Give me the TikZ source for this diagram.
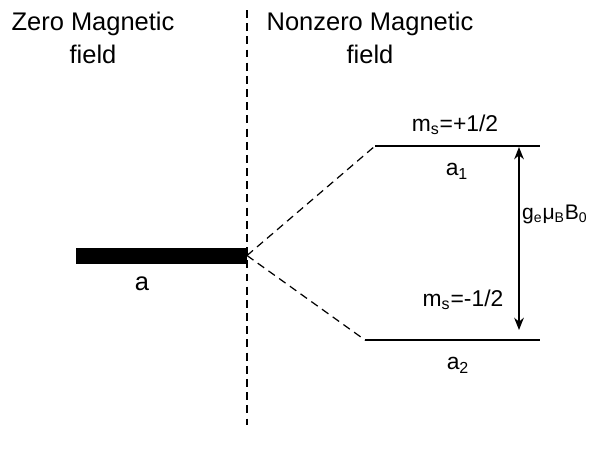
\documentclass[tikz,border=0pt]{standalone}
\usepackage{fontspec}
\setmainfont{Liberation Sans}
\usetikzlibrary{arrows.meta, positioning}

\begin{document}
\begin{tikzpicture}[
  x=0.02cm, y=-0.02cm,
  title/.style={align=center, font=\fontsize{14.5}{18.7}\selectfont},
  lbl/.style={font=\fontsize{13}{15}\selectfont, inner sep=1pt},
  level/.style={line width=1pt},
  split/.style={dashed, dash pattern=on 4.5pt off 3pt, line width=0.7pt},
  gap/.style={{Stealth[length=7pt, width=5.5pt]}-{Stealth[length=7pt, width=5.5pt]}, line width=0.9pt}
]
  \useasboundingbox (0,0) rectangle (590,451);

  % Titles
  \node[title] (zero) at (93,38) {Zero Magnetic\\field};
  \node[title] (nonzero) at (370,38) {Nonzero Magnetic\\field};

  % Separator
  \coordinate (sep-top) at (247,10);
  \coordinate (sep-bot) at (247,425);
  \draw[split] (sep-top) -- (sep-bot);

  % Zero field level
  \node[fill=black, draw=black, minimum width=3.4cm, minimum height=0.3cm,
        inner sep=0pt, anchor=east] (bar) at (247,255.5) {};
  \node[lbl, font=\fontsize{14.5}{17}\selectfont] (a) at (142,284) {a};

  % Split levels
  \coordinate (up-l) at (375,146);
  \coordinate (up-r) at (540,146);
  \coordinate (lo-l) at (365,340);
  \coordinate (lo-r) at (540,340);
  \draw[level] (up-l) -- (up-r);
  \draw[level] (lo-l) -- (lo-r);
  \draw[split] (bar.east) -- (up-l);
  \draw[split] (bar.east) -- (lo-l);

  % Labels
  \node[lbl] (ms-up) at (455,125) {m\textsubscript{s}=+1/2};
  \node[lbl] (a1) at (457,171) {a\textsubscript{1}};
  \node[lbl] (ms-lo) at (463,300) {m\textsubscript{s}=-1/2};
  \node[lbl] (a2) at (458,365) {a\textsubscript{2}};

  % Energy gap
  \coordinate (gap-top) at (519,147);
  \coordinate (gap-bot) at (519,330);
  \draw[gap] (gap-top) -- (gap-bot);
  \node[lbl, font=\fontsize{12}{14}\selectfont, anchor=east, inner sep=0pt] (dE) at (588,214) {g\textsubscript{e}μ\textsubscript{B}B\textsubscript{0}};
\end{tikzpicture}
\end{document}
